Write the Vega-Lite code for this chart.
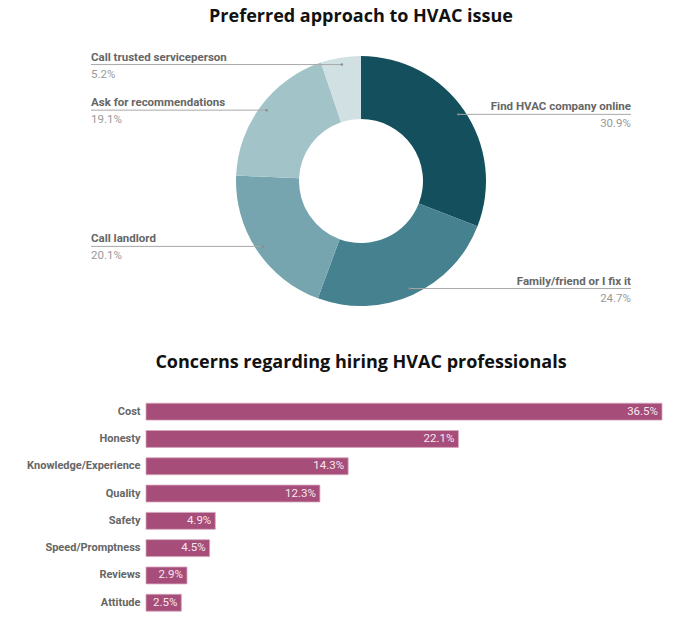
{
  "$schema": "https://vega.github.io/schema/vega-lite/v6.json",
  "autosize": {"type": "none"},
  "padding": {"left": 146, "top": 40, "right": 550, "bottom": 584},
  "background": "white",
  "bounds": "flush",
  "spacing": 76,
  "config": {
    "view": {"stroke": null},
    "title": {"font": "Open Sans", "fontSize": 18, "fontWeight": "bold", "color": "#111111"}
  },
  "datasets": {
    "approach": [
      {"approach": "Find HVAC company online", "share": 0.309},
      {"approach": "Family/friend or I fix it", "share": 0.247},
      {"approach": "Call landlord", "share": 0.201},
      {"approach": "Ask for recommendations", "share": 0.191},
      {"approach": "Call trusted serviceperson", "share": 0.052}
    ],
    "concerns": [
      {"concern": "Cost", "share": 0.365},
      {"concern": "Honesty", "share": 0.221},
      {"concern": "Knowledge/Experience", "share": 0.143},
      {"concern": "Quality", "share": 0.123},
      {"concern": "Safety", "share": 0.049},
      {"concern": "Speed/Promptness", "share": 0.045},
      {"concern": "Reviews", "share": 0.029},
      {"concern": "Attitude", "share": 0.025}
    ]
  },
  "vconcat": [
    {
      "width": 430,
      "height": 282,
      "title": {"text": "Preferred approach to HVAC issue", "anchor": "middle", "offset": 14},
      "data": {"name": "approach"},
      "layer": [
        {
          "mark": {"type": "arc", "innerRadius": 62, "outerRadius": 125},
          "encoding": {
            "theta": {"field": "share", "type": "quantitative", "stack": true},
            "order": {"field": "share", "type": "quantitative", "sort": "descending"},
            "color": {
              "field": "approach", "type": "nominal", "legend": null,
              "scale": {
                "domain": ["Find HVAC company online", "Family/friend or I fix it", "Call landlord", "Ask for recommendations", "Call trusted serviceperson"],
                "range": ["#134f5c", "#45818e", "#76a5af", "#a2c4c9", "#d0e0e3"]
              }
            }
          }
        },
        {
          "transform": [
            {"window": [{"op": "sum", "field": "share", "as": "cum"}], "sort": [{"field": "share", "order": "descending"}]},
            {"calculate": "(datum.cum - datum.share / 2) * 2 * PI", "as": "ang"},
            {"calculate": "118 * sin(datum.ang)", "as": "px"},
            {"calculate": "118 * cos(datum.ang)", "as": "py"},
            {"calculate": "datum.px > 0 ? 270 : -270", "as": "lx"}
          ],
          "encoding": {
            "x": {"field": "px", "type": "quantitative", "scale": {"domain": [-215, 215]}, "axis": null},
            "y": {"field": "py", "type": "quantitative", "scale": {"domain": [-141, 141]}, "axis": null}
          },
          "layer": [
            {
              "mark": {"type": "rule", "color": "#a8a8a8", "strokeWidth": 1},
              "encoding": {"x2": {"field": "lx"}}
            },
            {
              "mark": {"type": "circle", "size": 6, "color": "#8a8a8a", "opacity": 1}
            },
            {
              "transform": [{"filter": "datum.px > 0"}],
              "mark": {"type": "text", "align": "right", "baseline": "alphabetic", "dy": -4, "font": "Roboto", "fontSize": 11.5, "fontWeight": "bold", "color": "#666666"},
              "encoding": {"x": {"field": "lx", "type": "quantitative"}, "text": {"field": "approach"}}
            },
            {
              "transform": [{"filter": "datum.px > 0"}],
              "mark": {"type": "text", "align": "right", "baseline": "top", "dy": 4, "font": "Roboto", "fontSize": 11.5, "color": "#999999"},
              "encoding": {"x": {"field": "lx", "type": "quantitative"}, "text": {"field": "share", "format": ".1%"}}
            },
            {
              "transform": [{"filter": "datum.px <= 0"}],
              "mark": {"type": "text", "align": "left", "baseline": "alphabetic", "dy": -4, "font": "Roboto", "fontSize": 11.5, "fontWeight": "bold", "color": "#666666"},
              "encoding": {"x": {"field": "lx", "type": "quantitative"}, "text": {"field": "approach"}}
            },
            {
              "transform": [{"filter": "datum.px <= 0"}],
              "mark": {"type": "text", "align": "left", "baseline": "top", "dy": 4, "font": "Roboto", "fontSize": 11.5, "color": "#999999"},
              "encoding": {"x": {"field": "lx", "type": "quantitative"}, "text": {"field": "share", "format": ".1%"}}
            }
          ]
        }
      ],
      "resolve": {"scale": {"x": "shared", "y": "shared"}}
    },
    {
      "width": 516,
      "height": 218.4,
      "title": {"text": "Concerns regarding hiring HVAC professionals", "anchor": "middle", "offset": 26, "dx": -43},
      "data": {"name": "concerns"},
      "encoding": {
        "y": {
          "field": "concern", "type": "nominal", "sort": null,
          "scale": {"paddingInner": 0.38, "paddingOuter": 0.19},
          "axis": {"title": null, "domain": false, "ticks": false, "labelPadding": 6, "labelFont": "Roboto", "labelFontSize": 11, "labelFontWeight": "bold", "labelColor": "#666666"}
        },
        "x": {"field": "share", "type": "quantitative", "scale": {"domain": [0, 0.365]}, "axis": null}
      },
      "layer": [
        {"mark": {"type": "bar", "color": "#a64d79", "stroke": "#d5a6bd", "strokeWidth": 0.8}},
        {
          "mark": {"type": "text", "align": "right", "dx": -4, "font": "Roboto", "fontSize": 11.5, "color": "#f6e8ef"},
          "encoding": {"text": {"field": "share", "format": ".1%"}}
        }
      ]
    }
  ]
}
